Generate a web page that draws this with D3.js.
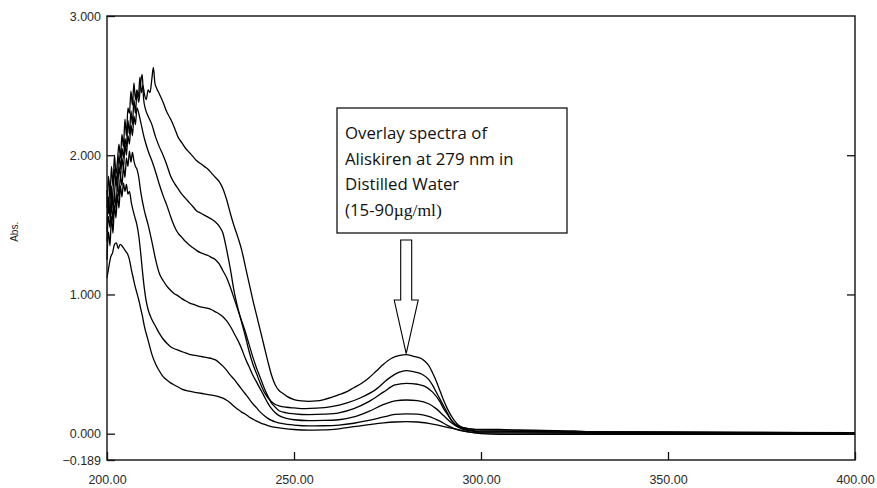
<!DOCTYPE html>
<html>
<head>
<meta charset="utf-8">
<script src="https://cdn.jsdelivr.net/npm/d3@7"></script>
<style>
  body { margin: 0; background: #fff; }
  svg { display: block; }
</style>
</head>
<body>
<div id="chart"></div>
<script>
// Aliskiren overlay UV spectra (15-90 µg/ml in distilled water)

// axis ticks
const xTicks = [200, 250, 300, 350, 400];
const yTicks = [-0.189, 0, 1, 2, 3];

// concentrations, µg/ml
const concentrations = [15, 30, 45, 60, 75, 90];

// [wavelength nm, absorbance] for each concentration
const spec15 = [[200,1.12],[200.5,1.20],[201,1.27],[201.5,1.30],[202,1.36],[202.5,1.37],[203,1.33],[203.5,1.36],[204,1.35],[204.5,1.33],[205,1.31],[205.5,1.29],[206,1.25],[206.5,1.18],[207,1.12],[207.5,1.06],[208,1.01],[208.5,0.96],[209,0.90],[209.5,0.84],[210,0.77],[211,0.67],[212,0.57],[213,0.50],[214,0.45],[215,0.41],[216,0.385],[217,0.365],[218,0.35],[219,0.335],[220,0.32],[222,0.305],[224,0.295],[226,0.286],[228,0.277],[230,0.265],[231,0.255],[232,0.24],[233,0.22],[234,0.195],[235,0.175],[236,0.155],[237,0.14],[238,0.12],[239,0.105],[240,0.09],[241,0.078],[242,0.068],[243,0.058],[245,0.045],[247,0.038],[250,0.03],[254,0.026],[258,0.027],[262,0.035],[266,0.05],[270,0.065],[274,0.078],[277,0.084],[280,0.086],[283,0.084],[286,0.074],[289,0.058],[292,0.04],[295,0.022],[298,0.008],[300,0.0],[305,-0.005],[395,-0.005],[400,-0.005]];

const spec30 = [[200,1.25],[200.4,1.45],[200.8,1.35],[201.2,1.56],[201.6,1.44],[202,1.64],[202.4,1.55],[202.8,1.72],[203.2,1.62],[203.6,1.78],[204,1.70],[204.4,1.80],[204.8,1.74],[205.2,1.79],[205.6,1.72],[206,1.74],[206.5,1.66],[207,1.60],[207.5,1.55],[208,1.50],[208.5,1.42],[209,1.30],[209.5,1.16],[210,1.04],[210.5,0.95],[211,0.89],[212,0.82],[213,0.77],[214,0.72],[215,0.68],[216,0.65],[217,0.625],[218,0.61],[219,0.60],[220,0.59],[221,0.58],[222,0.57],[223,0.565],[224,0.56],[225,0.555],[226,0.55],[227,0.545],[228,0.54],[229,0.53],[230,0.51],[231,0.485],[232,0.455],[233,0.42],[234,0.39],[235,0.355],[236,0.32],[237,0.285],[238,0.25],[239,0.215],[240,0.185],[241,0.155],[242,0.13],[243,0.11],[244,0.095],[245,0.085],[247,0.072],[250,0.062],[254,0.056],[258,0.057],[262,0.062],[266,0.075],[270,0.095],[274,0.12],[277,0.138],[280,0.142],[283,0.14],[286,0.125],[289,0.09],[291,0.06],[293,0.035],[296,0.015],[300,0.005],[400,0.0]];

const spec45 = [[200,1.38],[200.4,1.56],[200.8,1.48],[201.2,1.66],[201.6,1.52],[202,1.74],[202.4,1.62],[202.8,1.80],[203.2,1.70],[203.6,1.86],[204,1.78],[204.4,1.92],[204.8,1.84],[205.2,1.98],[205.6,1.92],[206,2.03],[206.4,1.95],[206.8,2.02],[207.2,1.96],[207.6,1.92],[208,1.90],[208.5,1.84],[209,1.74],[210,1.60],[211,1.50],[212,1.38],[213,1.25],[214,1.15],[215,1.10],[216,1.06],[217,1.03],[218,1.005],[219,0.99],[220,0.97],[221,0.955],[222,0.94],[223,0.93],[224,0.92],[225,0.91],[226,0.905],[227,0.90],[228,0.89],[229,0.875],[230,0.86],[231,0.84],[232,0.81],[233,0.77],[234,0.72],[235,0.67],[236,0.61],[237,0.54],[238,0.48],[239,0.42],[240,0.37],[241,0.32],[242,0.27],[243,0.22],[244,0.18],[245,0.15],[246,0.13],[248,0.11],[250,0.10],[254,0.094],[258,0.095],[262,0.10],[266,0.12],[270,0.16],[274,0.21],[277,0.235],[280,0.242],[283,0.237],[286,0.215],[288,0.18],[290,0.13],[292,0.08],[294,0.045],[296,0.025],[300,0.012],[400,0.004]];

const spec60 = [[200,1.45],[200.4,1.70],[200.8,1.55],[201.2,1.78],[201.6,1.62],[202,1.72],[202.4,1.86],[202.8,1.75],[203.2,1.92],[203.6,1.84],[204,1.98],[204.4,1.90],[204.8,2.08],[205.2,2.00],[205.6,2.14],[206,2.08],[206.4,2.22],[206.8,2.14],[207.2,2.28],[207.6,2.22],[208,2.34],[208.5,2.30],[209,2.24],[210,2.12],[211,2.03],[212,1.96],[213,1.88],[214,1.79],[215,1.71],[216,1.64],[217,1.56],[218,1.49],[219,1.44],[220,1.41],[221,1.38],[222,1.355],[223,1.335],[224,1.315],[225,1.30],[226,1.29],[227,1.28],[228,1.265],[229,1.25],[230,1.22],[231,1.17],[232,1.12],[233,1.05],[234,0.97],[235,0.89],[236,0.81],[237,0.73],[238,0.64],[239,0.55],[240,0.47],[241,0.40],[242,0.33],[243,0.27],[244,0.22],[245,0.19],[246,0.165],[248,0.15],[250,0.143],[254,0.137],[258,0.14],[262,0.15],[266,0.18],[270,0.23],[274,0.30],[277,0.35],[280,0.362],[283,0.355],[285,0.34],[287,0.30],[289,0.23],[290,0.18],[291,0.14],[292,0.10],[293,0.07],[295,0.04],[297,0.025],[300,0.018],[340,0.012],[400,0.005]];

const spec75 = [[200,1.75],[200.4,1.58],[200.8,1.82],[201.2,1.66],[201.6,1.74],[202,1.90],[202.4,1.78],[202.8,1.85],[203.2,2.00],[203.6,1.90],[204,2.05],[204.4,1.98],[204.8,2.12],[205.2,2.06],[205.6,2.25],[206,2.15],[206.4,2.32],[206.8,2.22],[207.2,2.40],[207.6,2.30],[208,2.45],[208.5,2.38],[209,2.52],[209.4,2.58],[209.8,2.40],[210.3,2.33],[211,2.28],[212,2.22],[213,2.13],[214,2.06],[215,2.00],[216,1.93],[217,1.85],[218,1.80],[219,1.76],[220,1.72],[221,1.69],[222,1.66],[223,1.63],[224,1.60],[225,1.585],[226,1.57],[227,1.555],[228,1.54],[229,1.52],[230,1.49],[231,1.44],[232,1.32],[233,1.18],[234,1.02],[235,0.90],[236,0.80],[237,0.70],[238,0.59],[239,0.50],[240,0.43],[241,0.36],[242,0.30],[243,0.26],[244,0.23],[245,0.21],[246,0.20],[248,0.19],[250,0.185],[253,0.18],[256,0.183],[260,0.195],[264,0.22],[268,0.26],[272,0.32],[275,0.39],[278,0.44],[280,0.453],[282,0.445],[284,0.43],[286,0.39],[287,0.35],[288,0.30],[289,0.25],[290,0.20],[291,0.15],[292,0.10],[293,0.07],[295,0.045],[297,0.035],[300,0.028],[320,0.022],[325,0.012],[365,0.01],[400,0.006]];

const spec90 = [[200,1.62],[200.4,1.85],[200.8,1.70],[201.2,1.92],[201.6,1.78],[202,2.00],[202.4,1.86],[202.8,1.96],[203.2,2.08],[203.6,1.98],[204,2.15],[204.4,2.06],[204.8,2.26],[205.2,2.14],[205.6,2.34],[206,2.30],[206.4,2.46],[206.8,2.36],[207.2,2.52],[207.6,2.40],[208,2.47],[208.4,2.42],[208.8,2.56],[209.2,2.45],[209.6,2.50],[210,2.44],[210.5,2.40],[211,2.47],[211.5,2.45],[212,2.55],[212.4,2.63],[212.8,2.52],[213.3,2.48],[214,2.44],[215,2.38],[216,2.31],[217,2.26],[218,2.20],[219,2.13],[220,2.09],[221,2.05],[222,2.02],[223,1.99],[224,1.96],[225,1.94],[226,1.92],[227,1.90],[228,1.87],[229,1.84],[230,1.81],[231,1.76],[232,1.68],[233,1.58],[234,1.49],[235,1.41],[236,1.32],[237,1.20],[238,1.08],[239,0.96],[240,0.85],[241,0.74],[242,0.63],[243,0.52],[244,0.42],[245,0.35],[246,0.31],[247,0.29],[248,0.27],[250,0.245],[252,0.235],[254,0.232],[256,0.235],[258,0.245],[260,0.26],[262,0.28],[264,0.30],[266,0.33],[268,0.36],[270,0.40],[272,0.45],[274,0.50],[276,0.54],[278,0.56],[280,0.568],[282,0.555],[284,0.54],[285,0.52],[286,0.49],[287,0.44],[288,0.38],[289,0.31],[290,0.24],[291,0.18],[292,0.13],[293,0.09],[294,0.06],[295,0.045],[297,0.035],[300,0.03],[305,0.03],[310,0.025],[325,0.02],[330,0.012],[400,0.008]];

const spectra = [spec15, spec30, spec45, spec60, spec75, spec90];

// annotation text
const noteLines = ["Overlay spectra of", "Aliskiren at 279 nm in", "Distilled Water"];
const arrowAt = [280, 0.568]; // λmax of the highest concentration

const width = 877, height = 488;
const margin = { top: 16, right: 22, bottom: 28, left: 107 };

const svg = d3.select("#chart").append("svg")
  .attr("width", width)
  .attr("height", height);

const x = d3.scaleLinear().domain([200, 400]).range([margin.left, width - margin.right]);
const y = d3.scaleLinear().domain([-0.189, 3]).range([height - margin.bottom, margin.top]);

const tickFont = "'Liberation Sans', Arial, sans-serif";

// spectra
const line = d3.line()
  .x(d => x(d[0]))
  .y(d => y(d[1]))
  .curve(d3.curveMonotoneX);

svg.append("g")
  .selectAll("path")
  .data(spectra)
  .join("path")
  .attr("d", line)
  .attr("fill", "none")
  .attr("stroke", "#000")
  .attr("stroke-width", 1.3)
  .attr("stroke-linejoin", "round");

// frame
svg.append("rect")
  .attr("x", x(200))
  .attr("y", y(3))
  .attr("width", x(400) - x(200))
  .attr("height", y(-0.189) - y(3))
  .attr("fill", "none")
  .attr("stroke", "#111")
  .attr("stroke-width", 1.4);

// inward ticks: bottom, left and right
const xAxis = d3.axisBottom(x).tickValues(xTicks).tickFormat(d3.format(".2f"))
  .tickSizeInner(-8).tickSizeOuter(0).tickPadding(15);
const gx = svg.append("g")
  .attr("transform", `translate(0,${y(-0.189)})`)
  .call(xAxis);

const yAxis = d3.axisLeft(y).tickValues(yTicks).tickFormat(d3.format(".3f"))
  .tickSizeInner(-8).tickSizeOuter(0).tickPadding(6);
const gy = svg.append("g")
  .attr("transform", `translate(${x(200)},0)`)
  .call(yAxis);

const gr = svg.append("g")
  .attr("transform", `translate(${x(400)},0)`)
  .call(d3.axisRight(y).tickValues([0, 1, 2]).tickFormat("").tickSizeInner(-8).tickSizeOuter(0));

[gx, gy, gr].forEach(g => {
  g.select(".domain").remove();
  g.selectAll("line").attr("stroke", "#111").attr("stroke-width", 1.3);
  g.selectAll("text")
    .attr("fill", "#2a2a2a")
    .style("font-family", tickFont)
    .style("font-size", "12.5px");
});

// y axis title
svg.append("text")
  .attr("transform", `translate(18,${y(1.45)}) rotate(-90)`)
  .attr("text-anchor", "middle")
  .style("font-family", tickFont)
  .style("font-size", "10px")
  .attr("fill", "#222")
  .text("Abs.");

// annotation box
svg.append("rect")
  .attr("x", 337).attr("y", 108)
  .attr("width", 230).attr("height", 125)
  .attr("fill", "#fff")
  .attr("stroke", "#000")
  .attr("stroke-width", 1.2);

const note = svg.append("g")
  .style("font-family", "'Open Sans', 'Noto Sans', sans-serif")
  .style("font-size", "16.8px")
  .attr("fill", "#111");

noteLines.forEach((t, i) => {
  note.append("text").attr("x", 345).attr("y", 139 + i * 25.5).text(t);
});
const last = note.append("text").attr("x", 345).attr("y", 139 + 3 * 25.5);
last.append("tspan").text("(15-90");
last.append("tspan")
  .style("font-family", "'Liberation Serif', 'Times New Roman', serif")
  .style("font-size", "17.5px")
  .text("µg/ml)");

// hollow block arrow pointing at the 279 nm maximum
const tipX = x(arrowAt[0]), tipY = y(arrowAt[1]) - 1;
const arrowPts = [
  [tipX - 5.5, 240], [tipX + 5.5, 240], [tipX + 5.5, 300], [tipX + 12, 300],
  [tipX, tipY], [tipX - 12, 300], [tipX - 5.5, 300]
];
svg.append("polygon")
  .attr("points", arrowPts.map(p => p.join(",")).join(" "))
  .attr("fill", "#fff")
  .attr("stroke", "#000")
  .attr("stroke-width", 1.1);
</script>
</body>
</html>
